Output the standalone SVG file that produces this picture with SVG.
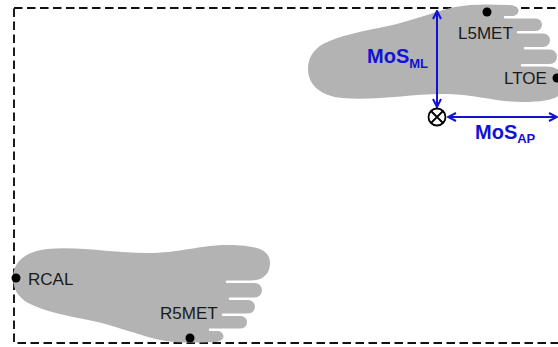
<svg xmlns="http://www.w3.org/2000/svg" width="558" height="347" viewBox="0 0 558 347">
  <style>
    .frame { fill: none; stroke: #111; stroke-width: 1.9; stroke-dasharray: 8.5 4.5; }
    .foot { fill: #b3b3b3; }
    .dot { fill: #000; }
    .label { font-family: "Liberation Sans", Arial, sans-serif; font-size: 17px; fill: #1a1a1a; }
    .mos { font-family: "Liberation Sans", Arial, sans-serif; font-weight: bold; fill: #1212d6; }
    .arrow { stroke: #1212d6; stroke-width: 2; fill: none; }
    .marker-sym { fill: #fff; stroke: #000; stroke-width: 1.8; }
  </style>
  <defs>
    <marker id="openHead" viewBox="0 0 10 10" refX="9" refY="5" markerWidth="10" markerHeight="10" markerUnits="userSpaceOnUse" orient="auto-start-reverse">
      <path d="M1,1 L9,5 L1,9" fill="none" stroke="#1212d6" stroke-width="2"/>
    </marker>
    <!-- right foot outline: heel at x=0, big-toe side at y=0 -->
    <path id="footShape" d="M 0 29
      C 0 12, 14 2, 34 0
      C 70 -3, 105 5, 140 4
      C 170 3, 188 -4, 215 -4
      C 248 -4, 257 3, 257 14
      C 257 25, 250 31.5, 238 31.5
      L 214 31.5
      A 1.25 1.25 0 0 0 214 34
      L 241.75 34
      A 7.25 7.25 0 0 1 241.75 48.5
      L 217 48.5
      A 1.25 1.25 0 0 0 217 51
      L 235.25 51
      A 6.75 6.75 0 0 1 235.25 64.5
      L 210 64.5
      A 1.25 1.25 0 0 0 210 67
      L 227.75 67
      A 6.25 6.25 0 0 1 227.75 79.5
      L 197 79.5
      A 1.25 1.25 0 0 0 197 82
      L 204.5 82
      C 208 82, 210.5 84.5, 210.5 87.5
      C 210.5 91, 206 93, 200 93
      C 180 94, 162 94, 147 91
      C 125 86, 100 76, 80 72
      C 55 67, 30 62, 15 54
      C 5 48, 0 40, 0 29 Z"/>
  </defs>

  <!-- dashed walking area -->
  <rect class="frame" x="14" y="8" width="560" height="335"/>

  <g id="left-foot">
    <use href="#footShape" class="foot" transform="translate(308,98) scale(1,-1)"/>
    <circle class="dot" cx="487" cy="12" r="4.5"/>
    <circle class="dot" cx="557" cy="78" r="4.5"/>
    <text class="label" x="458" y="39">L5MET</text>
    <text class="label" x="504" y="84">LTOE</text>
  </g>

  <g id="right-foot">
    <use href="#footShape" class="foot" transform="translate(13,249)"/>
    <circle class="dot" cx="16" cy="278" r="4.5"/>
    <circle class="dot" cx="190" cy="338" r="4.5"/>
    <text class="label" x="28" y="285">RCAL</text>
    <text class="label" x="160" y="319">R5MET</text>
  </g>

  <g id="connectors">
    <line class="arrow" x1="437" y1="11" x2="437" y2="107" marker-start="url(#openHead)" marker-end="url(#openHead)"/>
    <line class="arrow" x1="448" y1="117" x2="557" y2="117" marker-start="url(#openHead)" marker-end="url(#openHead)"/>
  </g>

  <g id="xcom">
    <circle class="marker-sym" cx="437" cy="117" r="8.5"/>
    <path d="M431 111 L443 123 M443 111 L431 123" stroke="#000" stroke-width="1.8"/>
  </g>

  <g id="mos-labels">
    <text class="mos" x="367" y="63" font-size="20">MoS<tspan font-size="13" dy="5">ML</tspan></text>
    <text class="mos" x="475" y="139" font-size="20">MoS<tspan font-size="13" dy="4">AP</tspan></text>
  </g>
</svg>
